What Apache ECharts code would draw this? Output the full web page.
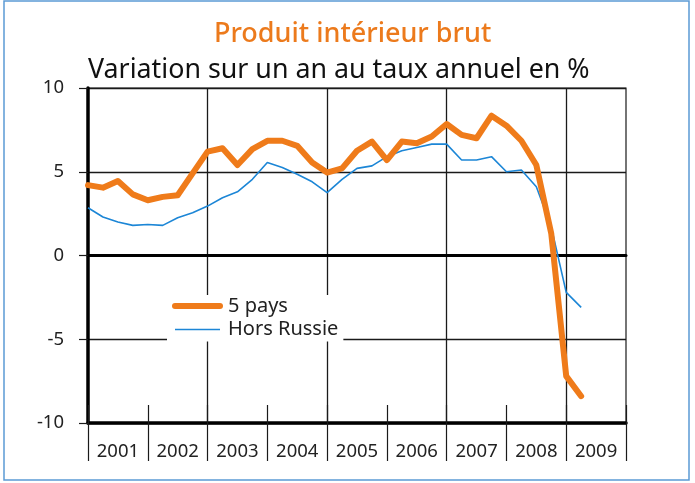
<!DOCTYPE html>
<html>
<head>
<meta charset="utf-8">
<script src="https://cdn.jsdelivr.net/npm/echarts@6/dist/echarts.min.js"></script>
<style>
  html, body { margin: 0; padding: 0; background: #fff; }
  #main { width: 695px; height: 483px; }
</style>
</head>
<body>
<div id="main"></div>
<script>
var years = ['2001', '2002', '2003', '2004', '2005', '2006', '2007', '2008', '2009'];

// one category per quarter, 2001 T1 .. 2010 T1 (last one closes the axis)
var quarters = [];
years.concat(['2010']).forEach(function (y) {
    for (var q = 1; q <= 4; q++) {
        if (y === '2010' && q > 1) break;
        quarters.push(y + ' T' + q);
    }
});

var cinqPays = [4.2, 4.05, 4.45, 3.65, 3.3, 3.5, 3.6, 4.9,
    6.2, 6.4, 5.4, 6.35, 6.85, 6.85, 6.55, 5.55,
    4.95, 5.2, 6.25, 6.8, 5.7, 6.8, 6.7, 7.1,
    7.85, 7.2, 7.0, 8.35, 7.75, 6.85, 5.4, 1.3,
    -7.2, -8.4];

var horsRussie = [2.85, 2.3, 2.0, 1.8, 1.85, 1.8, 2.25, 2.55,
    2.95, 3.45, 3.8, 4.55, 5.55, 5.25, 4.85, 4.4,
    3.75, 4.55, 5.2, 5.35, 5.9, 6.25, 6.45, 6.65,
    6.65, 5.7, 5.7, 5.9, 5.0, 5.1, 4.1, 1.7,
    -2.2, -3.1];

var yTicks = [-10, -5, 0, 5, 10];

var font = 'Noto Sans';
var orange = '#ef7b1a';
var blue = '#1c86d6';

var myChart = echarts.init(document.getElementById('main'));
var option = {
    backgroundColor: '#fff',
    animation: false,
    textStyle: { fontFamily: font },
    title: [
        {
            text: 'Produit intérieur brut',
            left: 214,
            top: 21,
            padding: 0,
            textStyle: { color: '#ec7a1c', fontSize: 27, fontWeight: 500, fontFamily: font }
        },
        {
            text: 'Variation sur un an au taux annuel en %',
            left: 88,
            top: 57,
            padding: 0,
            textStyle: { color: '#111', fontSize: 26.8, fontWeight: 'normal', fontFamily: font }
        }
    ],
    graphic: [{
        type: 'rect',
        shape: { x: 4, y: 1, width: 685, height: 479 },
        style: { fill: null, stroke: '#5b9bd5', lineWidth: 1.5 },
        silent: true
    }],
    legend: {
        orient: 'vertical',
        left: 167,
        top: 295,
        padding: [1, 5, 2, 5],
        itemWidth: 45,
        itemHeight: 14,
        itemGap: 3.5,
        backgroundColor: '#fff',
        itemStyle: { opacity: 0 },
        textStyle: { fontSize: 20, color: '#222', fontFamily: font, padding: [0, 0, 0, 3] },
        data: [
            { name: '5 pays', lineStyle: { width: 6, cap: 'round' } },
            { name: 'Hors Russie', lineStyle: { width: 1.6 } }
        ]
    },
    grid: {
        left: 88,
        right: 69,
        top: 88,
        bottom: 60,
        show: true,
        borderColor: '#1a1a1a',
        borderWidth: 1.2
    },
    xAxis: [
        {
            // thick line through zero
            type: 'category',
            data: quarters,
            boundaryGap: false,
            axisLine: { onZero: true, lineStyle: { color: '#000', width: 3 } },
            axisTick: { show: false },
            axisLabel: { show: false },
            splitLine: { show: false }
        },
        {
            type: 'category',
            data: quarters,
            boundaryGap: false,
            position: 'bottom',
            axisLine: { onZero: false, lineStyle: { color: '#000', width: 3.5 } },
            axisTick: {
                show: true,
                inside: true,
                length: 18,
                interval: function (i) { return i % 4 === 0; },
                lineStyle: { color: '#1a1a1a', width: 1.2 }
            },
            axisLabel: { show: false },
            splitLine: {
                show: true,
                interval: function (i) { return i % 8 === 0 && i > 0 && i < 36; },
                lineStyle: { color: '#1a1a1a', width: 1.3 }
            }
        },
        {
            type: 'category',
            data: years,
            boundaryGap: true,
            position: 'bottom',
            axisLine: { show: true, onZero: false, lineStyle: { color: 'rgba(0,0,0,0)', width: 1 } },
            axisTick: { show: true, interval: 0, length: 38, lineStyle: { color: '#1a1a1a', width: 1.2 } },
            axisLabel: { fontSize: 18.5, color: '#222', margin: 19, fontFamily: font },
            splitLine: { show: false }
        }
    ],
    yAxis: {
        type: 'value',
        min: yTicks[0],
        max: yTicks[yTicks.length - 1],
        interval: 5,
        axisLine: { show: true, lineStyle: { color: '#000', width: 3.5 } },
        axisTick: { show: true, length: 9, lineStyle: { color: '#1a1a1a', width: 1.2 } },
        axisLabel: { fontSize: 18.5, color: '#222', margin: 24, fontFamily: font },
        splitLine: { show: true, lineStyle: { color: '#1a1a1a', width: 1.3 } }
    },
    series: [
        {
            name: '5 pays',
            type: 'line',
            xAxisIndex: 0,
            data: cinqPays,
            symbol: 'none',
            z: 4,
            lineStyle: { color: orange, width: 6, cap: 'round', join: 'round' },
            itemStyle: { color: orange }
        },
        {
            name: 'Hors Russie',
            type: 'line',
            xAxisIndex: 0,
            data: horsRussie,
            symbol: 'none',
            z: 3,
            lineStyle: { color: blue, width: 1.6 },
            itemStyle: { color: blue }
        }
    ]
};
myChart.setOption(option);
</script>
</body>
</html>
